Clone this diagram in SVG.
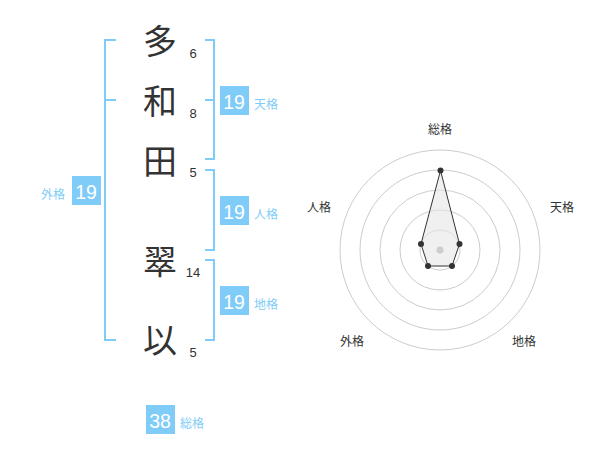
<svg xmlns="http://www.w3.org/2000/svg" width="600" height="470" viewBox="0 0 600 470">
<style>
.ch{font-family:"Noto Sans CJK JP","Noto Sans CJK SC",sans-serif;font-size:34px;fill:#333;text-anchor:middle}
.num{font-family:"Liberation Sans",Arial,sans-serif;font-size:13px;fill:#333;text-anchor:middle}
.br{fill:none;stroke:#80ccf8;stroke-width:2}
.box{fill:#80ccf8}
.bt{font-family:"Liberation Sans",Arial,sans-serif;font-size:19.5px;fill:#fff;text-anchor:middle}
.lb{font-family:"Noto Sans CJK JP","Noto Sans CJK SC",sans-serif;font-size:12px;fill:#80ccf8}
.rl{font-family:"Noto Sans CJK JP","Noto Sans CJK SC",sans-serif;font-size:12px;fill:#333;text-anchor:middle}
.ring{fill:none;stroke:#ccc;stroke-width:1}
.dot{fill:#333}
</style>
<g id="chars">
<g id="c1"><text class="ch" x="160" y="54">多</text><text class="num" x="193" y="58">6</text></g>
<g id="c2"><text class="ch" x="160" y="114">和</text><text class="num" x="193" y="118">8</text></g>
<g id="c3"><text class="ch" x="160" y="174">田</text><text class="num" x="193" y="177">5</text></g>
<g id="c4"><text class="ch" x="160" y="274">翠</text><text class="num" x="193" y="277">14</text></g>
<g id="c5"><text class="ch" x="160" y="353">以</text><text class="num" x="193" y="357">5</text></g>
</g>
<g id="connectors">
<path class="br" d="M116,40 H105 V340 H116 M105,100 H116"/>
<path class="br" d="M205,40 H214 V159 H205 M214,100 H205"/>
<path class="br" d="M205,170 H214 V250 H205"/>
<path class="br" d="M205,260 H214 V340 H205"/>
</g>
<g id="gaikaku"><rect class="box" x="72" y="176" width="29" height="29"/><text class="bt" x="86" y="198.5">19</text><text class="lb" x="53" y="199" text-anchor="middle">外格</text></g>
<g id="tenkaku"><rect class="box" x="220" y="86" width="29" height="29"/><text class="bt" x="234" y="108.5">19</text><text class="lb" x="254" y="109">天格</text></g>
<g id="jinkaku"><rect class="box" x="220" y="196" width="29" height="29"/><text class="bt" x="234" y="218.5">19</text><text class="lb" x="254" y="219">人格</text></g>
<g id="chikaku"><rect class="box" x="220" y="286" width="29" height="29"/><text class="bt" x="234" y="308.5">19</text><text class="lb" x="254" y="309">地格</text></g>
<g id="soukaku"><rect class="box" x="146" y="405" width="29" height="29"/><text class="bt" x="160" y="427.5">38</text><text class="lb" x="180" y="428">総格</text></g>
<g id="radar">
<circle class="ring" cx="440" cy="250" r="20"/>
<circle class="ring" cx="440" cy="250" r="40"/>
<circle class="ring" cx="440" cy="250" r="60"/>
<circle class="ring" cx="440" cy="250" r="80"/>
<circle class="ring" cx="440" cy="250" r="100"/>
<polygon points="440.5,170.5 459.5,244 452,266 428,266 421,244" fill="#e6e6e6" fill-opacity="0.6" stroke="#333" stroke-width="1"/>
<circle cx="440" cy="250" r="3.5" fill="#ccc"/>
<circle class="dot" cx="440.5" cy="170.5" r="3"/>
<circle class="dot" cx="459.5" cy="244" r="3"/>
<circle class="dot" cx="452" cy="266" r="3"/>
<circle class="dot" cx="428" cy="266" r="3"/>
<circle class="dot" cx="421" cy="244" r="3"/>
<text class="rl" x="440" y="134">総格</text>
<text class="rl" x="562" y="212">天格</text>
<text class="rl" x="319" y="212">人格</text>
<text class="rl" x="352" y="346">外格</text>
<text class="rl" x="524" y="346">地格</text>
</g>
</svg>
